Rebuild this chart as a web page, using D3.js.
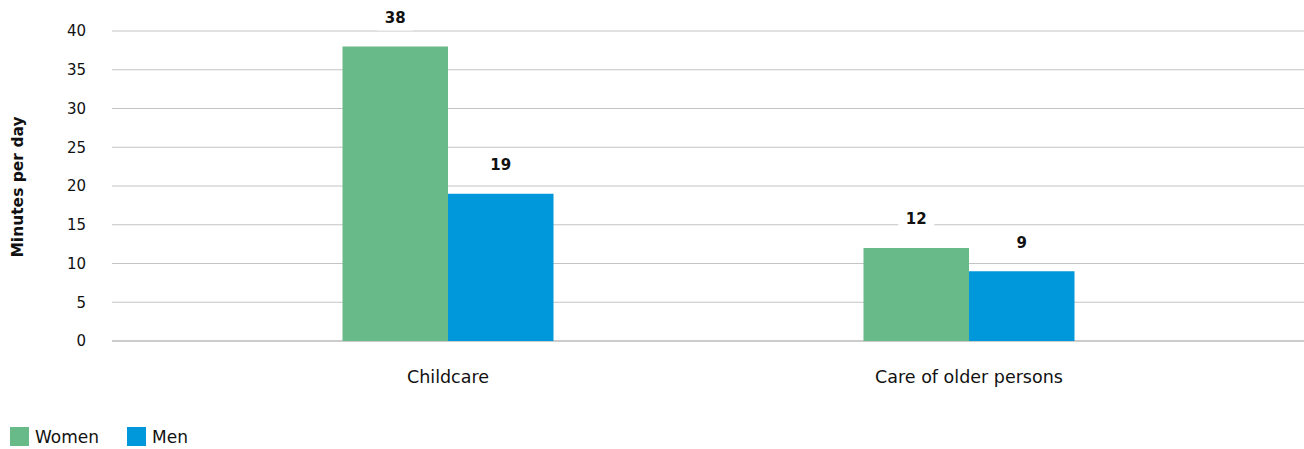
<!DOCTYPE html>
<html><head><meta charset="utf-8">
<script src="https://cdn.jsdelivr.net/npm/d3@7"></script>
<style>body{margin:0;background:#fff}svg{display:block}text{font-family:"DejaVu Sans",sans-serif;fill:#111}</style>
</head><body>
<svg id="c" width="1304" height="449"></svg>
<script>
const categories = ["Childcare", "Care of older persons"];
const seriesNames = ["Women", "Men"];
const women = [38, 12];
const men = [19, 9];
const yTicks = [0, 5, 10, 15, 20, 25, 30, 35, 40];
const colors = ["#68BA88", "#0098DA"];

const svg = d3.select("#c");
const y = d3.scaleLinear().domain([0, 40]).range([341, 31]);
const x0 = d3.scaleBand().domain(categories).range([187.5, 1229.5]).paddingInner(0.595).paddingOuter(0.2975);
const x1 = d3.scaleBand().domain(seriesNames).range([0, x0.bandwidth()]);
const gridX0 = 112, gridX1 = 1304;

svg.append("g").selectAll("line").data(yTicks).join("line")
  .attr("x1", gridX0).attr("x2", gridX1)
  .attr("y1", d => y(d)).attr("y2", d => y(d))
  .attr("stroke", d => d === 0 ? "#9a9a9a" : "#c4c4c4").attr("stroke-width", 1.2);

svg.append("g").selectAll("text").data(yTicks).join("text")
  .attr("x", 86).attr("y", d => y(d)).attr("dy", "0.35em")
  .attr("text-anchor", "end").attr("font-size", 15).text(d => d);

svg.append("text").attr("transform", "translate(18,187) rotate(-90)")
  .attr("text-anchor", "middle").attr("dy", "0.35em").attr("font-size", 15.5).attr("font-weight", "bold")
  .text("Minutes per day");

const data = categories.map((c, i) => ({cat: c, vals: [women[i], men[i]]}));
const g = svg.append("g").selectAll("g").data(data).join("g")
  .attr("transform", d => `translate(${x0(d.cat)},0)`);

g.selectAll("rect.bar").data(d => d.vals.map((v, j) => ({v, s: seriesNames[j], j})))
  .join("rect").attr("class", "bar")
  .attr("x", d => x1(d.s)).attr("width", x1.bandwidth())
  .attr("y", d => y(d.v)).attr("height", d => y(0) - y(d.v))
  .attr("fill", d => colors[d.j]);

const lab = g.selectAll("g.lab").data(d => d.vals.map((v, j) => ({v, s: seriesNames[j], j})))
  .join("g").attr("class", "lab")
  .attr("transform", d => `translate(${x1(d.s) + x1.bandwidth() / 2},${y(d.v) - 29})`);
lab.append("rect").attr("x", -18).attr("y", -11).attr("width", 36).attr("height", 24).attr("fill", "#fff");
lab.append("text").attr("text-anchor", "middle").attr("dy", "0.35em")
  .attr("font-size", 15).attr("font-weight", "bold").text(d => d.v);

svg.append("g").selectAll("text").data(categories).join("text")
  .attr("x", d => x0(d) + x0.bandwidth() / 2).attr("y", 377).attr("dy", "0.35em")
  .attr("text-anchor", "middle").attr("font-size", 17.5).text(d => d);

const legX = [10, 127];
const leg = svg.append("g").selectAll("g").data(seriesNames).join("g")
  .attr("transform", (d, i) => `translate(${legX[i]},427)`);
leg.append("rect").attr("width", 19).attr("height", 19).attr("fill", (d, i) => colors[i]);
leg.append("text").attr("x", 25).attr("y", 10).attr("dy", "0.35em").attr("font-size", 17).text(d => d);
</script>
</body></html>
